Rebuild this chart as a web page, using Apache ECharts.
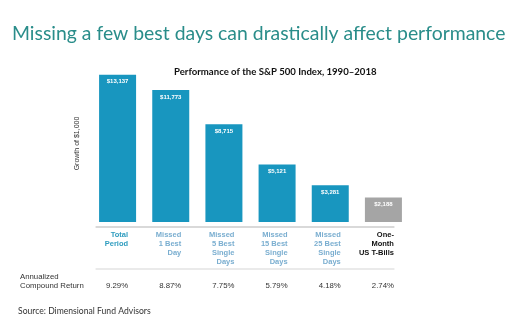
<!DOCTYPE html>
<html>
<head>
<meta charset="utf-8">
<style>
  html, body { margin: 0; padding: 0; background: #fff; }
  #chart { width: 526px; height: 329px; }
</style>
<script src="https://cdn.jsdelivr.net/npm/echarts@6/dist/echarts.min.js"></script>
</head>
<body>
<div id="chart"></div>
<script>
// Growth of $1,000 in the S&P 500, 1990–2018, when the best days are missed
const categories = [
  ['Total', 'Period'],
  ['Missed', '1 Best', 'Day'],
  ['Missed', '5 Best', 'Single', 'Days'],
  ['Missed', '15 Best', 'Single', 'Days'],
  ['Missed', '25 Best', 'Single', 'Days'],
  ['One-', 'Month', 'US T-Bills']
];
const growthValues = [13137, 11773, 8715, 5121, 3281, 2188];
const annualReturns = ['9.29%', '8.87%', '7.75%', '5.79%', '4.18%', '2.74%'];
const rowLabel = ['Annualized', 'Compound Return'];

const BLUE = '#1896bf';
const GREY = '#a5a5a5';
const labelColors = ['#2e9cbf', '#7aaed0', '#7aaed0', '#7aaed0', '#7aaed0', '#111111'];

const chart = echarts.init(document.getElementById('chart'));

const option = {
  animation: false,
  backgroundColor: '#ffffff',
  title: [
    {
      text: 'Missing a few best days can drastically affect performance',
      left: 7, top: 19,
      textStyle: { color: '#2a8d8a', fontFamily: 'Lato', fontWeight: 'normal', fontSize: 19.4 }
    },
    {
      text: 'Performance of the S&P 500 Index, 1990\u20132018',
      left: 169, top: 62,
      textStyle: { color: '#111', fontFamily: 'Lato', fontWeight: 'bold', fontSize: 9.6 }
    },
    {
      text: 'Source: Dimensional Fund Advisors',
      left: 13, top: 302,
      textStyle: { color: '#333', fontFamily: 'Lato', fontWeight: 'normal', fontSize: 8.6 }
    }
  ],
  grid: { left: 91, right: 116, top: 65, bottom: 107 },
  xAxis: {
    type: 'category',
    data: categories.map(c => c.join(' ')),
    axisLine: { show: false },
    axisTick: { show: false },
    axisLabel: { show: false }
  },
  yAxis: {
    type: 'value',
    min: 0, max: 14000,
    axisLine: { show: false },
    axisTick: { show: false },
    axisLabel: { show: false },
    splitLine: { show: false },
    name: 'Growth of $1,000',
    nameLocation: 'middle',
    nameGap: 10,
    nameTextStyle: { color: '#333', fontFamily: 'Liberation Sans', fontSize: 7 }
  },
  series: [{
    type: 'bar',
    barWidth: 37,
    data: growthValues.map((v, i) => ({
      value: v,
      itemStyle: { color: i === growthValues.length - 1 ? GREY : BLUE }
    })),
    label: {
      show: true,
      position: 'insideTop',
      distance: 4,
      color: '#fff',
      fontFamily: 'Liberation Sans',
      fontWeight: 'bold',
      fontSize: 6,
      formatter: p => '$' + p.value.toLocaleString('en-US')
    }
  }]
};
chart.setOption(option);

// Table beneath the bars: category names and annualized returns,
// right-aligned against each bar's right edge.
const graphics = [];
const baseY = chart.convertToPixel({ yAxisIndex: 0 }, 0);
const halfBar = 18.5;
const firstX = chart.convertToPixel({ xAxisIndex: 0 }, 0);
const lastX = chart.convertToPixel({ xAxisIndex: 0 }, categories.length - 1);

graphics.push({
  type: 'line',
  shape: { x1: firstX - 22, y1: baseY + 5, x2: lastX + 11, y2: baseY + 5 },
  style: { stroke: '#d9d9d9', lineWidth: 2 }
});
graphics.push({
  type: 'line',
  shape: { x1: firstX - 22, y1: baseY + 47, x2: lastX + 11, y2: baseY + 47 },
  style: { stroke: '#e3e3e3', lineWidth: 1.5 }
});

categories.forEach((lines, i) => {
  const cx = chart.convertToPixel({ xAxisIndex: 0 }, i);
  graphics.push({
    type: 'text',
    x: cx + halfBar - 8,
    y: baseY + 9,
    style: {
      text: lines.join('\n'),
      align: 'right',
      verticalAlign: 'top',
      lineHeight: 8.7,
      fill: labelColors[i],
      font: 'bold 7.5px "Liberation Sans", Arial, sans-serif'
    }
  });
  graphics.push({
    type: 'text',
    x: cx + halfBar - 8,
    y: baseY + 64,
    style: {
      text: annualReturns[i],
      align: 'right',
      verticalAlign: 'middle',
      fill: '#333',
      font: '7.8px "Liberation Sans", Arial, sans-serif'
    }
  });
});

graphics.push({
  type: 'text',
  x: 20,
  y: baseY + 50,
  style: {
    text: rowLabel.join('\n'),
    align: 'left',
    verticalAlign: 'top',
    lineHeight: 9.3,
    fill: '#333',
    font: '7.8px "Liberation Sans", Arial, sans-serif'
  }
});

chart.setOption({ graphic: graphics });
</script>
</body>
</html>
